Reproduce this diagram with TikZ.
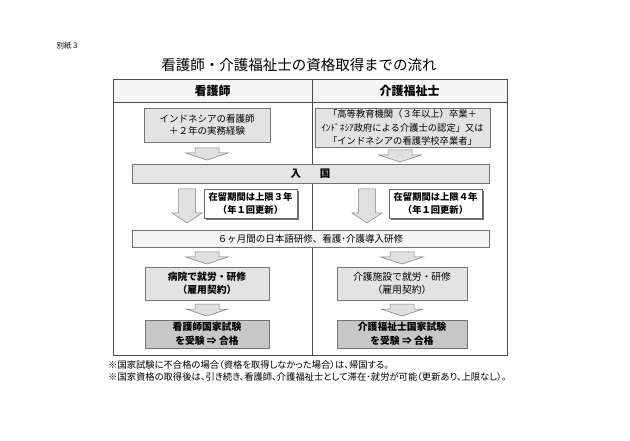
\documentclass[tikz,border=0pt]{standalone}
\usepackage{fontspec}
\setmainfont{Noto Sans CJK JP}
\newfontfamily\jpp{Noto Sans CJK JP}[RawFeature=+palt]
\usetikzlibrary{shadows}
\begin{document}
\begin{tikzpicture}[x=1pt,y=-1pt]
\tikzset{
  tline/.style={draw=black!70, line width=0.7pt},
  gbox/.style={draw=black!55, line width=0.5pt, fill=black!11, align=center, inner sep=0pt,
     font=\fontsize{9.5}{12.5}\selectfont},
  bar/.style={draw=black!55, line width=0.5pt, inner sep=0pt, align=center},
  staybox/.style={draw=black!60, line width=0.5pt, fill=white, align=center, inner sep=0pt,
     font=\fontsize{9.3}{13}\selectfont\bfseries,
     drop shadow={shadow xshift=2pt, shadow yshift=-2pt, fill=black!55, opacity=1}},
  exambox/.style={gbox, fill=black!22},
  afill/.style={draw=black!50, line width=0.5pt, fill=black!12},
  sarr/.pic={\path[afill] (-12,0) -- (12,0) -- (12,5) -- (21,5) -- (0,12) -- (-21,5) -- (-12,5) -- cycle;},
  barr/.pic={\path[afill] (-8.5,0) -- (8.5,0) -- (8.5,24) -- (15,24) -- (0,34) -- (-15,24) -- (-8.5,24) -- cycle;}
}
\useasboundingbox (0,0) rectangle (630,441);
\fill[white] (0,0) rectangle (630,441);

% header texts
\node[font=\fontsize{7.5}{9}\selectfont, anchor=west] (bessi) at (53,46) {別紙３};
\node[font=\fontsize{14.5}{17}\selectfont] (title) at (299,65) {看護師・介護福祉士の資格取得までの流れ};

% table
\fill[black!4] (113,79) rectangle (507,102);
\draw[tline] (113,79) rectangle (507,355);
\draw[tline] (113,102) -- (507,102);
\draw[tline] (312,79) -- (312,355);
\node[font=\fontsize{12}{14}\selectfont\bfseries] (h1) at (212.5,91) {看護師};
\node[font=\fontsize{12}{14}\selectfont\bfseries] (h2) at (409.5,91) {介護福祉士};

% first boxes
\node[gbox, minimum width=126, minimum height=34] (L1) at (207,125)
  {インドネシアの看護師\\＋２年の実務経験};
\node[gbox, minimum width=175, minimum height=39, font=\fontsize{9.3}{13.5}\selectfont] (R1) at (402.5,127.5)
  {「高等教育機関（３年以上）卒業＋\\ｲﾝﾄﾞﾈｼｱ政府による介護士の認定」又は\\「インドネシアの看護学校卒業者」};

\pic at (207,148) {sarr};
\pic at (400,150) {sarr};

% entry bar
\node[bar, fill=black!10, minimum width=357, minimum height=19,
  font=\fontsize{10.5}{12}\selectfont\bfseries] (entry) at (310.5,173.5) {入\hspace{19pt}国};

% big arrows and stay boxes
\pic at (187,189) {barr};
\pic at (367,189) {barr};
\node[staybox, minimum width=93, minimum height=29] (S1) at (250.5,203.5)
  {在留期間は上限３年\\（年１回更新）};
\node[staybox, minimum width=93, minimum height=29] (S2) at (435.5,203.5)
  {在留期間は上限４年\\（年１回更新）};

% training bar
\node[bar, fill=black!4, minimum width=357, minimum height=17,
  font=\fontsize{9.5}{12}\selectfont] (train) at (310.5,238.5) {６ヶ月間の日本語研修、看護･介護導入研修};

\pic at (207,252) {sarr};
\pic at (402,252) {sarr};

% work boxes
\node[gbox, minimum width=124, minimum height=33, font=\fontsize{9.8}{13}\selectfont\bfseries] (W1) at (207,283.5)
  {病院で就労・研修\\（雇用契約）};
\node[gbox, minimum width=130, minimum height=33, font=\fontsize{9.8}{13}\selectfont] (W2) at (402,283.5)
  {介護施設で就労・研修\\（雇用契約）};

\pic at (207,304) {sarr};
\pic at (402,304) {sarr};

% exam boxes
\node[exambox, minimum width=124, minimum height=28, font=\fontsize{9.8}{13.5}\selectfont\bfseries] (E1) at (207,334)
  {看護師国家試験\\を受験 ⇒ 合格};
\node[exambox, minimum width=130, minimum height=28, font=\fontsize{9.8}{13.5}\selectfont\bfseries] (E2) at (402,334)
  {介護福祉士国家試験\\を受験 ⇒ 合格};

% notes
\node[anchor=west, inner sep=0pt, font=\jpp\fontsize{9.3}{11}\selectfont] (n1) at (108,365)
  {※国家試験に不合格の場合（資格を取得しなかった場合）は、帰国する。};
\node[anchor=west, inner sep=0pt, font=\jpp\fontsize{9.3}{11}\selectfont] (n2) at (108,377)
  {※国家資格の取得後は、引き続き、看護師、介護福祉士として滞在･就労が可能（更新あり、上限なし）。};
\end{tikzpicture}
\end{document}
